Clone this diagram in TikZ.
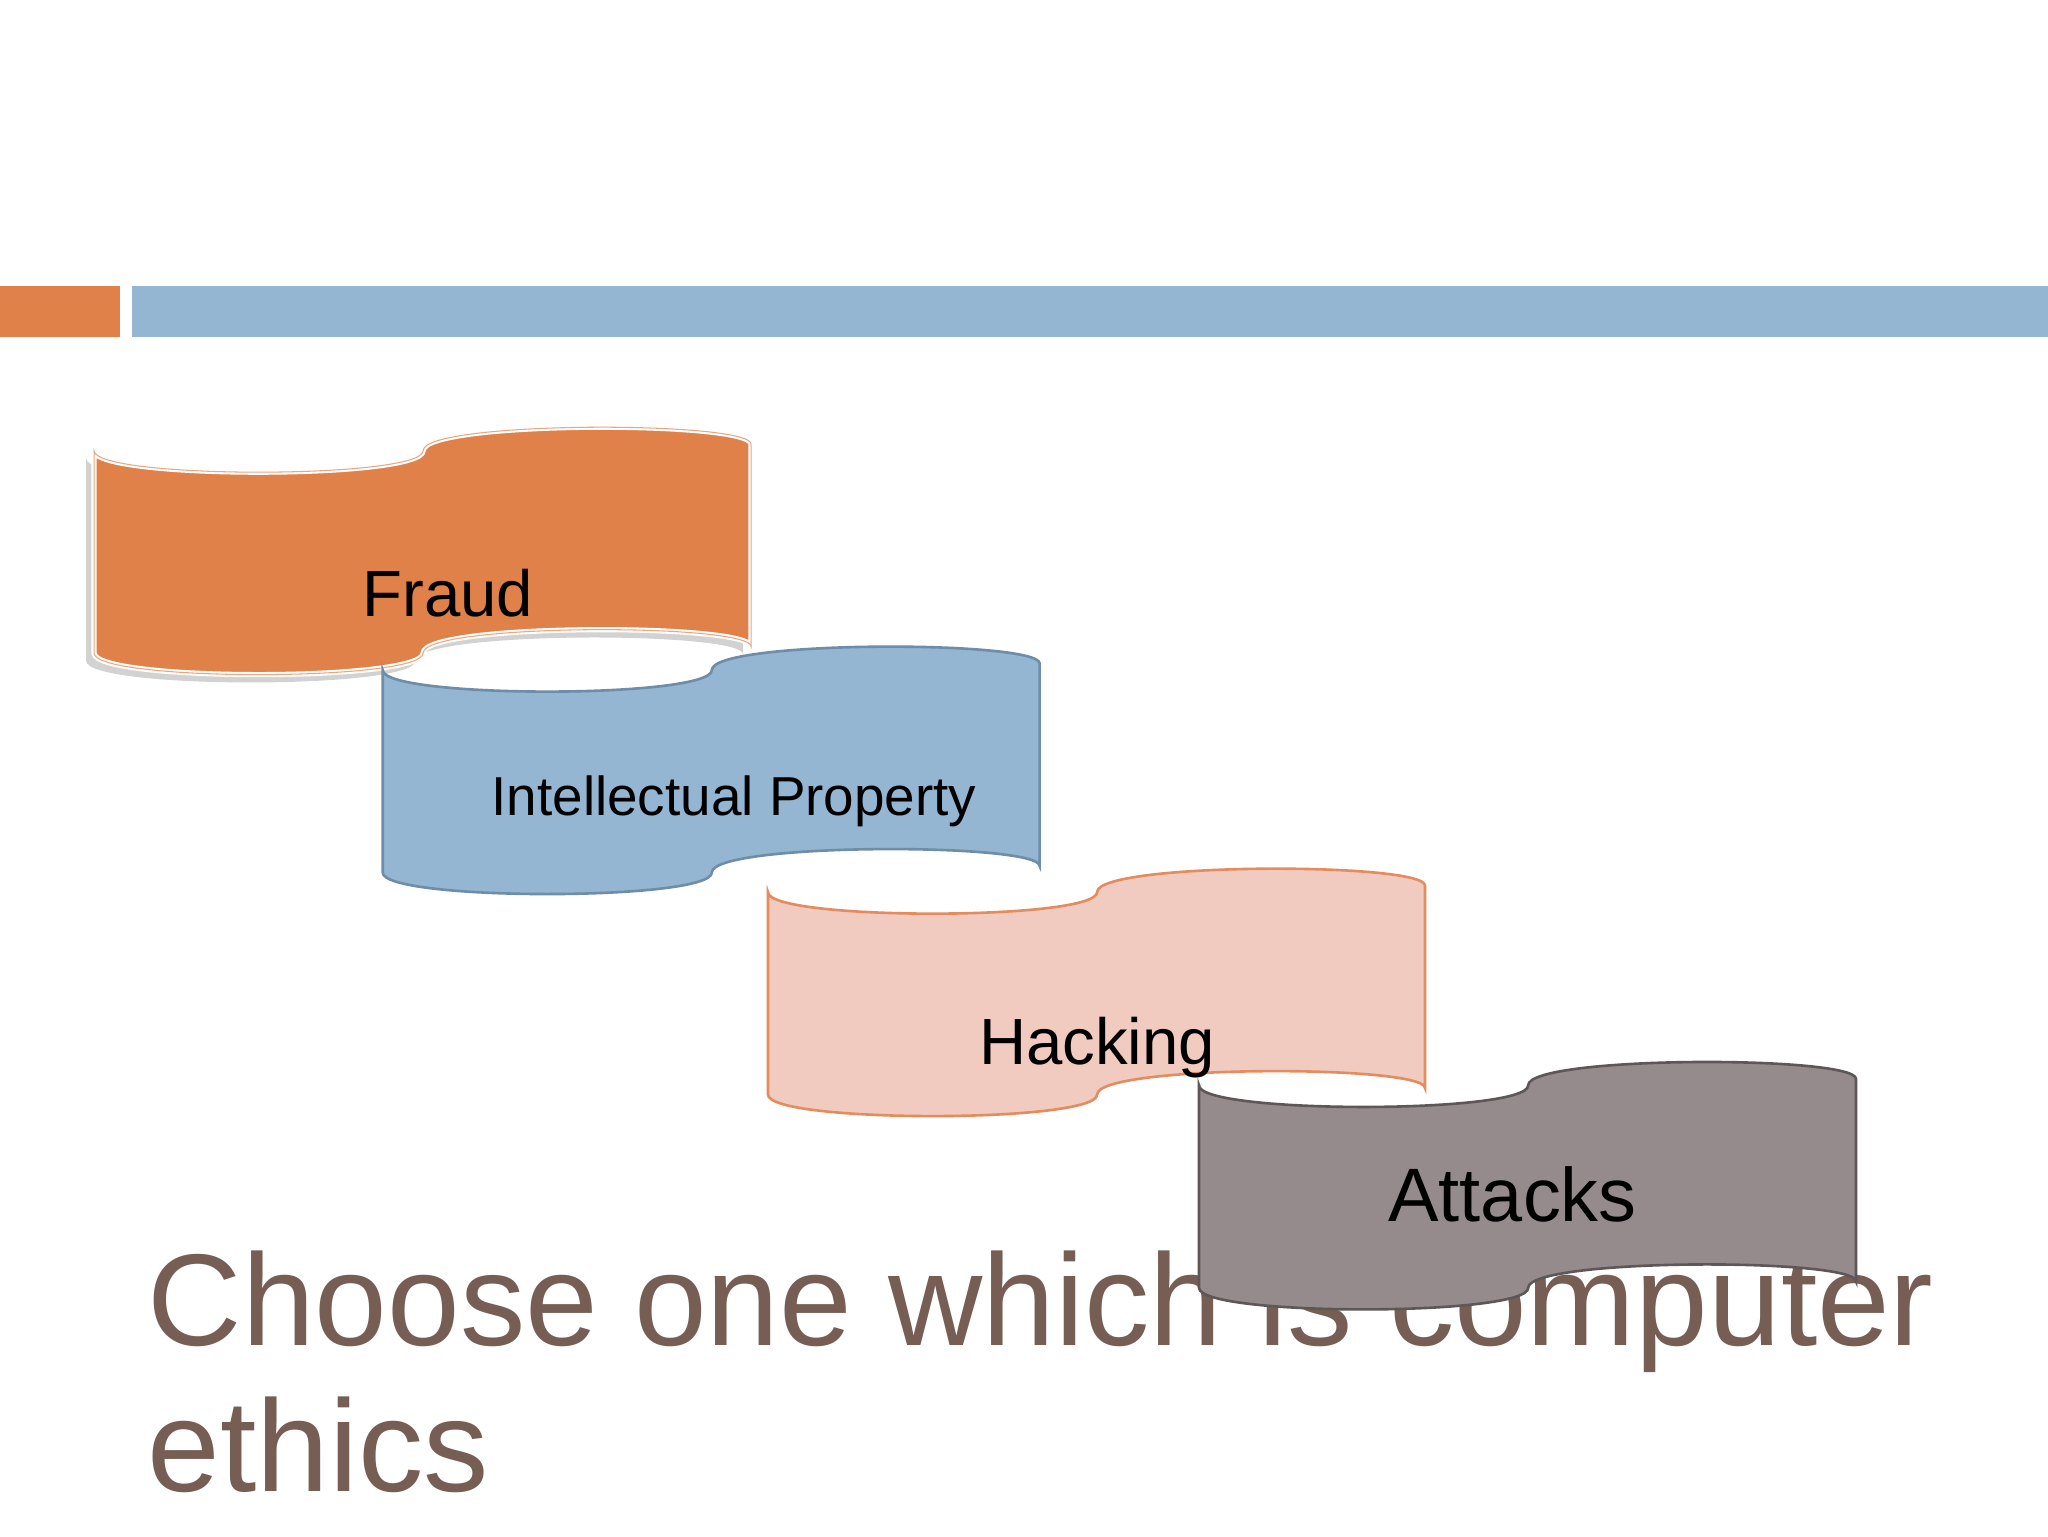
\documentclass[tikz,border=0pt]{standalone}
\usepackage{fontspec}
\setmainfont{Liberation Sans}
\definecolor{cOr}{HTML}{DF8148}
\definecolor{cBl}{HTML}{94B6D2}
\definecolor{cBlD}{HTML}{6F8CA8}
\definecolor{cPk}{HTML}{F1CBC0}
\definecolor{cPkD}{HTML}{E48C5E}
\definecolor{cGr}{HTML}{968B8C}
\definecolor{cGrD}{HTML}{5E5758}
\definecolor{cTt}{HTML}{765E54}
\newcommand{\wavepath}[2]{%
 (#1+0,#2+23) .. controls (#1+0,#2+45) and (#1+252,#2+45) .. (#1+252,#2+23)
 .. controls (#1+252,#2+0) and (#1+503,#2+0) .. (#1+503,#2+18)
 -- (#1+503,#2+173) .. controls (#1+503,#2+155) and (#1+252,#2+155) .. (#1+252,#2+178)
 .. controls (#1+252,#2+200) and (#1+0,#2+200) .. (#1+0,#2+178) -- cycle}
\begin{document}
\begin{tikzpicture}[x=1pt,y=-1pt,
 lbl/.style={text=black,inner sep=0pt}]
\useasboundingbox (0,0) rectangle (1568,1176);
\fill[white] (0,0) rectangle (1568,1176);
\fill[cOr] (0,219) rectangle (92,258);
\fill[cBl] (101,219) rectangle (1568,258);
% Fraud
\fill[gray!35] \wavepath{66}{328};
\fill[cOr,draw=white,line width=4pt] \wavepath{72}{322};
\draw[cOr!70!white,line width=0.8pt] \wavepath{72}{322};
% IP
\fill[cBl,draw=cBlD,line width=2pt] \wavepath{293}{490};
% Hacking
\fill[cPk,draw=cPkD,line width=2pt] \wavepath{588}{660};
% title
\node[anchor=base west,text=cTt,font=\fontsize{100}{112}\selectfont,inner sep=0pt] (t1) at (113,1030) {Choose one which is computer};
\node[anchor=base west,text=cTt,font=\fontsize{100}{112}\selectfont,inner sep=0pt] (t2) at (113,1142) {ethics};
% Attacks
\fill[cGr,draw=cGrD,line width=2pt] \wavepath{918}{808};
\node[lbl,font=\fontsize{50}{60}\selectfont,anchor=base] (f) at (343,472) {Fraud};
\node[lbl,font=\fontsize{42}{50}\selectfont,anchor=base] (ip) at (562,624) {Intellectual Property};
\node[lbl,font=\fontsize{50}{60}\selectfont,anchor=base] (h) at (840,815) {Hacking};
\node[lbl,font=\fontsize{58}{68}\selectfont,anchor=base] (a) at (1158,935) {Attacks};
\end{tikzpicture}
\end{document}
